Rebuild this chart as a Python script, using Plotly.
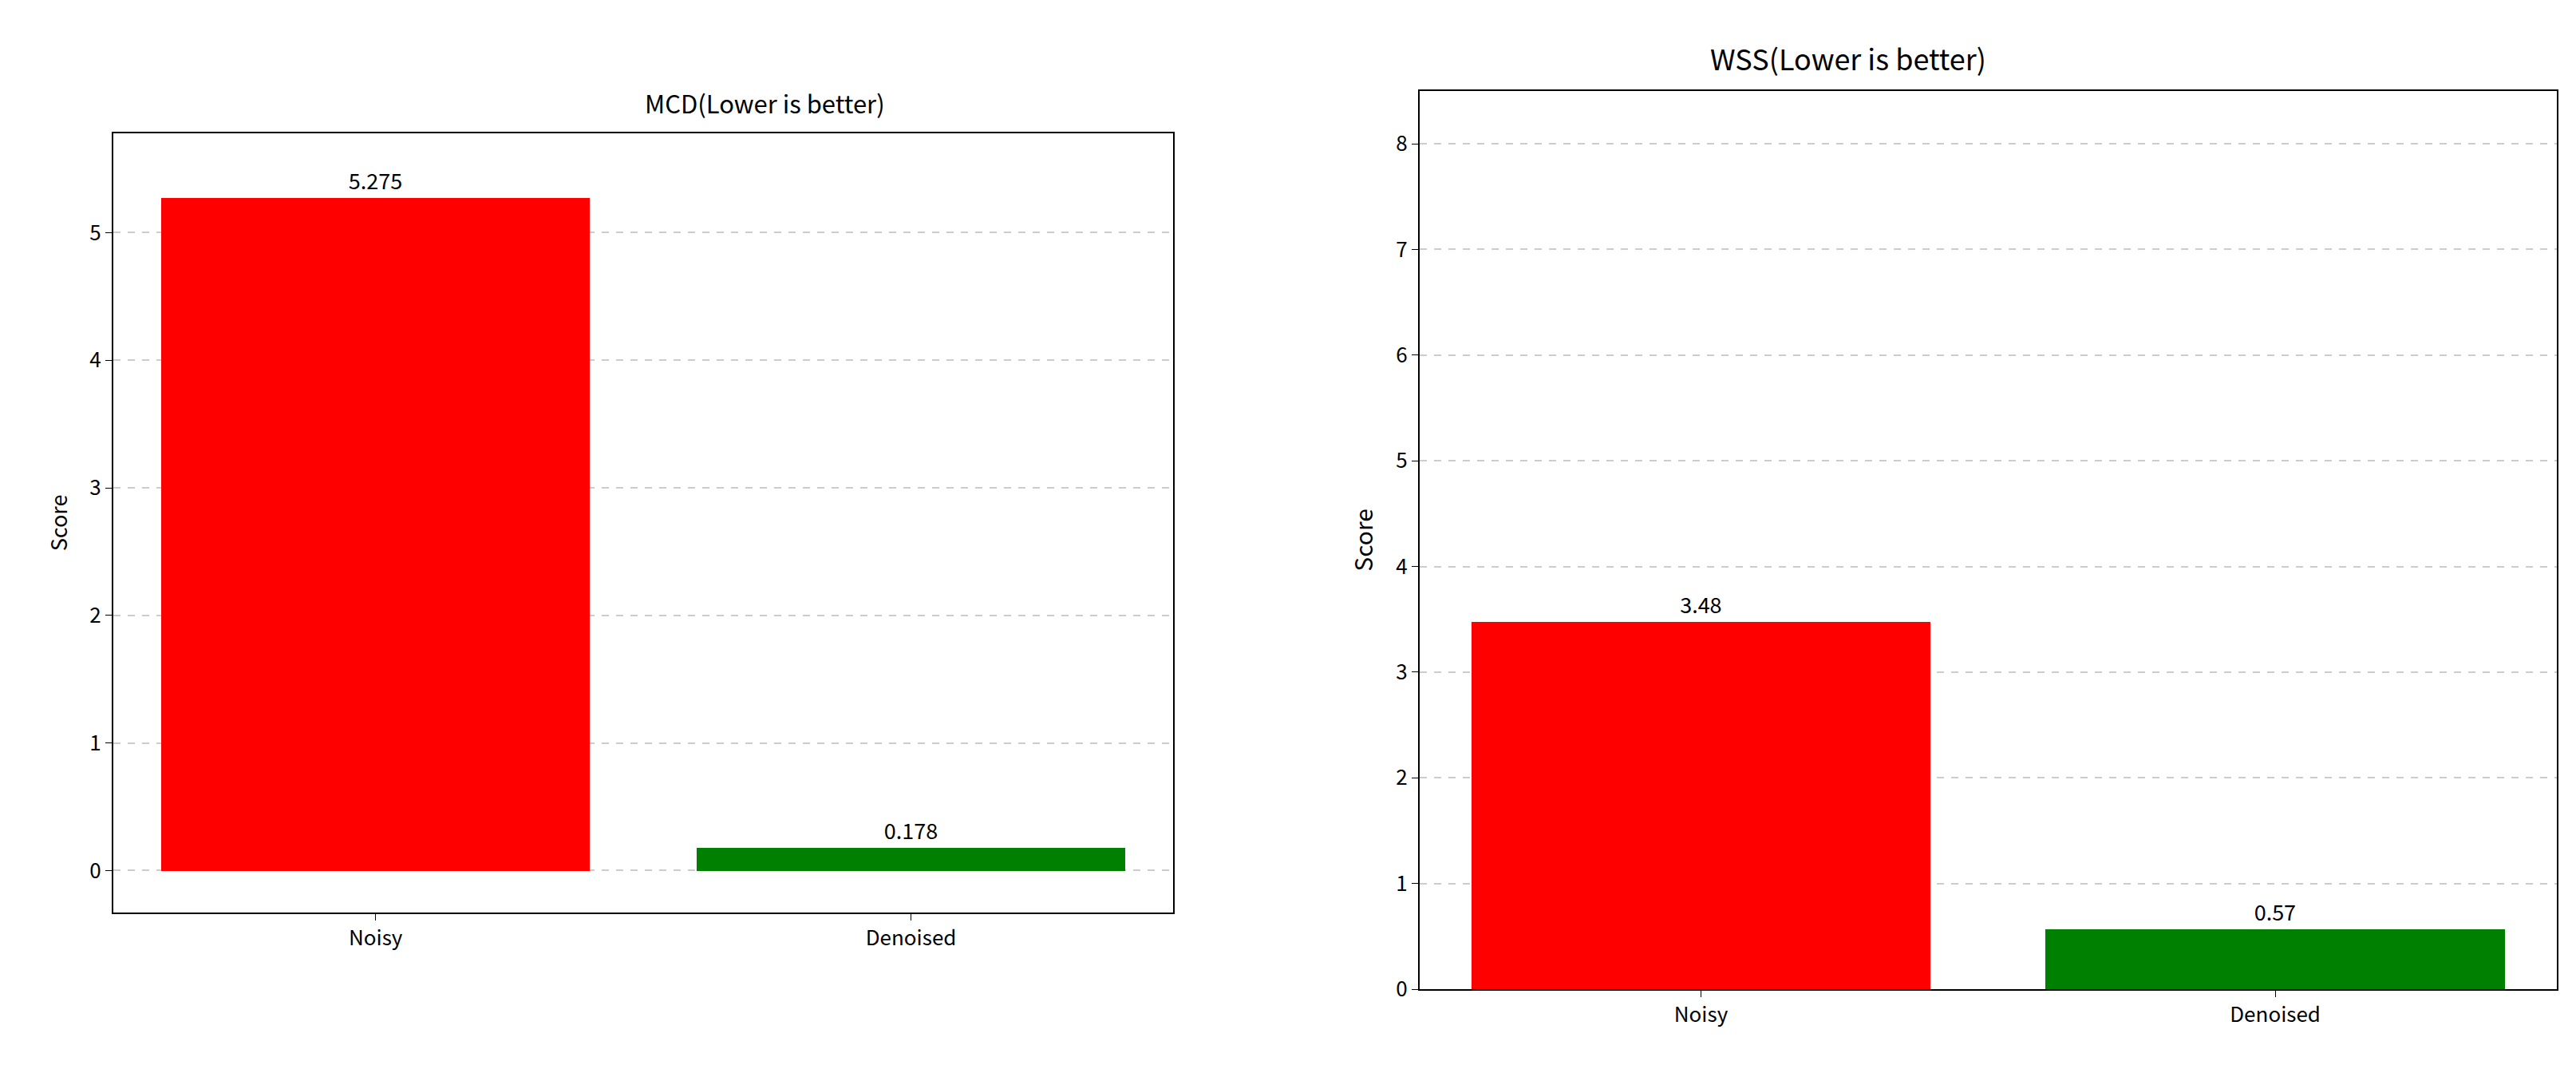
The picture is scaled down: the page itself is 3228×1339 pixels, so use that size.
import plotly.graph_objects as go

categories = ["Noisy", "Denoised"]
mcd_values = [5.275, 0.178]
wss_values = [3.48, 0.57]
mcd_labels = ["5.275", "0.178"]
wss_labels = ["3.48", "0.57"]
colors = ["#ff0000", "#008000"]

W, H = 3228, 1339
F = "Noto Sans CJK SC, SimHei, sans-serif"

fig = go.Figure()
fig.add_trace(go.Bar(x=[0, 1], y=mcd_values, width=0.8, marker_color=colors, marker_line_width=0,
                     text=mcd_labels, textposition="outside", cliponaxis=False,
                     textfont=dict(size=27, color="black", family=F), xaxis="x", yaxis="y"))
fig.add_trace(go.Bar(x=[0, 1], y=wss_values, width=0.8, marker_color=colors, marker_line_width=0,
                     text=wss_labels, textposition="outside", cliponaxis=False,
                     textfont=dict(size=27, color="black", family=F), xaxis="x2", yaxis="y2"))

ax = dict(showline=True, linecolor="black", linewidth=2, mirror=True, ticks="outside",
          ticklen=8, tickcolor="black", tickfont=dict(size=26, family=F, color="black"), zeroline=False)
fig.update_layout(
    width=W, height=H, margin=dict(l=0, r=0, t=0, b=0), showlegend=False,
    plot_bgcolor="white", paper_bgcolor="white", bargap=0,
    xaxis=dict(domain=[0.0415, 0.453], range=[-0.49, 1.49], tickvals=[0, 1], ticktext=categories,
               showgrid=False, anchor="y", **ax),
    yaxis=dict(domain=[0.142, 0.880], range=[-0.33, 5.78], tickvals=[0, 1, 2, 3, 4, 5],
               showgrid=True, gridcolor="#cccccc", griddash="dash", gridwidth=1.5, anchor="x",
               title=dict(text="Score", font=dict(size=27, family=F, color="black"), standoff=20), **ax),
    xaxis2=dict(domain=[0.5486, 0.990], range=[-0.49, 1.49], tickvals=[0, 1], ticktext=categories,
                showgrid=False, anchor="y2", **ax),
    yaxis2=dict(domain=[0.0695, 0.920], range=[0, 8.5], tickvals=list(range(9)),
                showgrid=True, gridcolor="#cccccc", griddash="dash", gridwidth=1.5, anchor="x2",
                title=dict(text="Score", font=dict(size=30, family=F, color="black"), standoff=20), **ax),
    annotations=[
        dict(text="MCD(Lower is better)", x=(0.0415 + 0.453) / 2, y=0.880, xref="paper", yref="paper",
             yanchor="bottom", yshift=14, showarrow=False, font=dict(size=31, family=F, color="black")),
        dict(text="WSS(Lower is better)", x=(0.5486 + 0.990) / 2, y=0.920, xref="paper", yref="paper",
             yanchor="bottom", yshift=14, showarrow=False, font=dict(size=36, family=F, color="black")),
    ],
)
fig.write_html("out.html")
